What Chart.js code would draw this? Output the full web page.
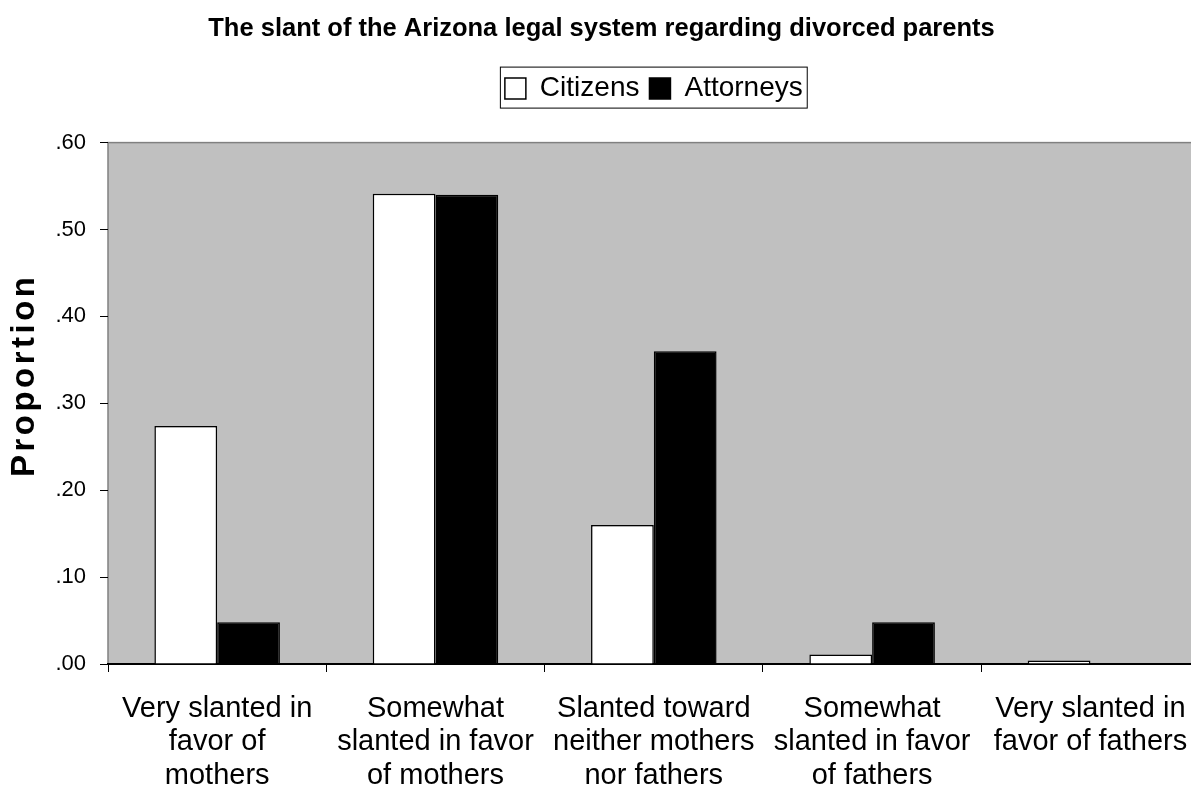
<!DOCTYPE html>
<html>
<head>
<meta charset="utf-8">
<script src="https://cdn.jsdelivr.net/npm/chart.js@4.4.1/dist/chart.umd.min.js"></script>
<style>
  html, body { margin: 0; padding: 0; background: #fff; overflow: hidden; }
  #wrap { width: 1208px; height: 792px; }
</style>
</head>
<body>
<div id="wrap"><canvas id="chart"></canvas></div>
<script>
const categories = [
  ["Very slanted in", "favor of", "mothers"],
  ["Somewhat", "slanted in favor", "of mothers"],
  ["Slanted toward", "neither mothers", "nor fathers"],
  ["Somewhat", "slanted in favor", "of fathers"],
  ["Very slanted in", "favor of fathers"],
];
const citizens = [0.274, 0.541, 0.160, 0.011, 0.004];
const attorneys = [0.048, 0.540, 0.360, 0.048, 0];
const yTicks = [0, 0.1, 0.2, 0.3, 0.4, 0.5, 0.6];

const font = "Arial, 'Liberation Sans', sans-serif";

// gray plot area with its border
const plotArea = {
  id: "plotArea",
  beforeDraw(chart) {
    const { ctx, chartArea: a } = chart;
    ctx.save();
    ctx.fillStyle = "#c0c0c0";
    ctx.fillRect(a.left, a.top, a.right - a.left, a.bottom - a.top);
    ctx.strokeStyle = "#808080";
    ctx.lineWidth = 1.5;
    ctx.strokeRect(a.left, a.top, a.right - a.left, a.bottom - a.top);
    ctx.restore();
  },
};

// spacing tweaks: gap under the legend, y title spacing and offset
const tweaks = {
  id: "tweaks",
  beforeLayout(chart) {
    if (chart._tweaked) return;
    chart._tweaked = true;

    const legend = chart.legend;
    const fit = legend.fit;
    legend.fit = function () {
      fit.call(this);
      this.height += 30;
    };

    const y = chart.scales.y;
    const drawYTitle = y.drawTitle;
    y.drawTitle = function () {
      this.ctx.save();
      this.ctx.letterSpacing = "3.5px";
      this.ctx.translate(0, -28);
      drawYTitle.call(this);
      this.ctx.restore();
    };
  },
};

// box round the legend
const legendBorder = {
  id: "legendBorder",
  afterDraw(chart) {
    const boxes = chart.legend.legendHitBoxes;
    if (!boxes.length) return;
    const left = Math.min(...boxes.map((b) => b.left)) - 5;
    const right = Math.max(...boxes.map((b) => b.left + b.width)) + 4;
    const top = Math.min(...boxes.map((b) => b.top)) - 8;
    const bottom = Math.max(...boxes.map((b) => b.top + b.height)) + 5;
    const ctx = chart.ctx;
    ctx.save();
    ctx.strokeStyle = "#000";
    ctx.lineWidth = 1;
    ctx.strokeRect(left + 0.5, top + 0.5, right - left, bottom - top);
    ctx.restore();
  },
};

const config = {
  type: "bar",
  data: {
    labels: categories,
    datasets: [
      {
        label: "Citizens",
        data: citizens,
        backgroundColor: "#ffffff",
        borderColor: "#000000",
        borderWidth: 1.5,
      },
      {
        label: "Attorneys",
        data: attorneys,
        backgroundColor: "#000000",
        borderColor: "#000000",
        borderWidth: 1.5,
      },
    ],
  },
  options: {
    responsive: true,
    maintainAspectRatio: false,
    animation: false,
    layout: { padding: { left: 0, right: 5, top: 0, bottom: 0 } },
    datasets: {
      bar: { categoryPercentage: 0.575, barPercentage: 1 },
    },
    plugins: {
      title: {
        display: true,
        text: "The slant of the Arizona legal system regarding divorced parents",
        color: "#000",
        font: { family: font, size: 25.5, weight: "bold" },
        padding: { top: 14, bottom: 20 },
      },
      legend: {
        display: true,
        fullSize: false,
        labels: {
          color: "#000",
          font: { family: font, size: 28 },
          boxWidth: 21,
          boxHeight: 21,
          padding: 10,
        },
      },
      tooltip: { enabled: false },
    },
    scales: {
      x: {
        grid: {
          display: true,
          drawOnChartArea: false,
          drawTicks: true,
          tickLength: 8,
          color: "#000",
          lineWidth: 1,
        },
        border: { display: true, color: "#000", width: 2 },
        ticks: {
          color: "#000",
          font: { family: font, size: 29, lineHeight: 1.16 },
          padding: 20,
          maxRotation: 0,
          autoSkip: false,
        },
        afterFit: (s) => { s.height = 128; },
      },
      y: {
        min: 0,
        max: 0.6,
        afterBuildTicks: (s) => { s.ticks = yTicks.map((v) => ({ value: v })); },
        grid: {
          display: true,
          drawOnChartArea: false,
          drawTicks: true,
          tickLength: 8,
          color: "#000",
        },
        border: { display: false },
        ticks: {
          color: "#000",
          font: { family: font, size: 22 },
          padding: 14,
          callback: (v) => v.toFixed(2).replace(/^0/, ""),
        },
        title: {
          display: true,
          text: "Proportion",
          color: "#000",
          font: { family: font, size: 33, weight: "bold" },
          padding: { top: 5, bottom: 0 },
        },
        afterFit: (s) => { s.width = 108; },
      },
    },
  },
  plugins: [plotArea, tweaks, legendBorder],
};

new Chart(document.getElementById("chart"), config);
</script>
</body>
</html>
